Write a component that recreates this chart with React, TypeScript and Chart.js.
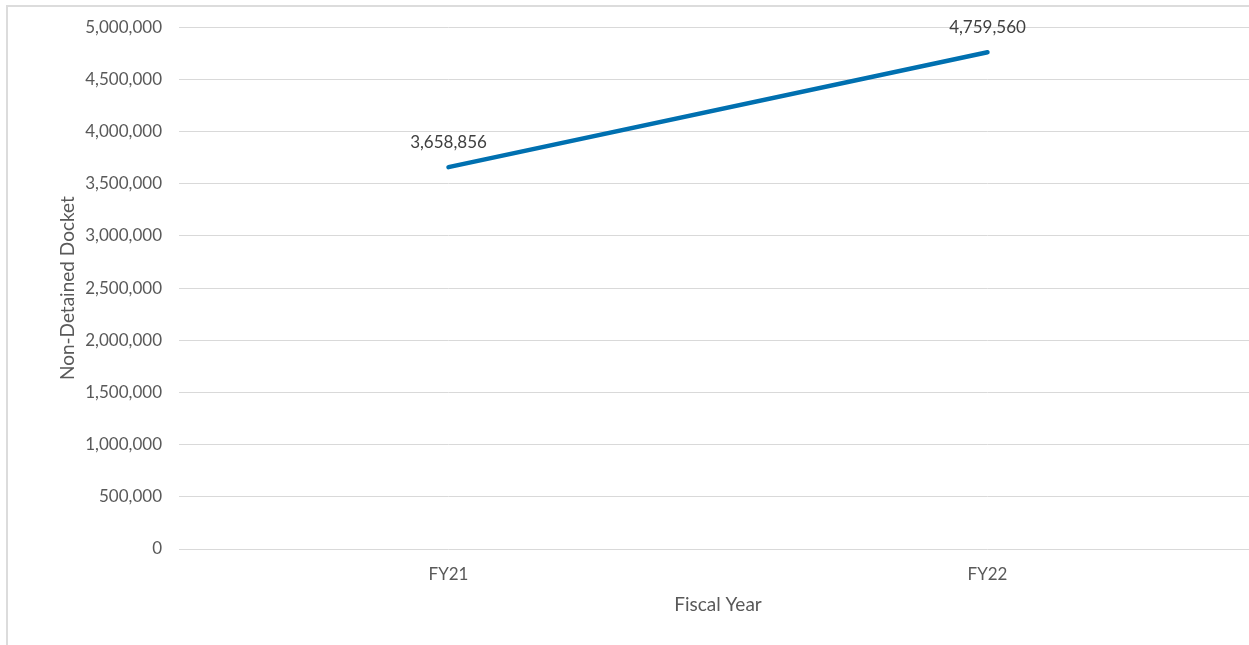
import React, { useEffect, useRef } from "react";
import { Chart, registerables } from "chart.js";

Chart.register(...registerables);

const categories = ["FY21", "FY22"];
const docketValues = [3658856, 4759560];
const yMin = 0;
const yMax = 5000000;
const yStep = 500000;
const xTitle = "Fiscal Year";
const yTitle = "Non-Detained Docket";

const FONT = "Lato, 'Open Sans', sans-serif";
const fmt = (v: number) => Number(v).toLocaleString("en-US");

const labelPlugin = {
  id: "pointLabels",
  afterDatasetsDraw(chart: any) {
    const { ctx } = chart;
    const meta = chart.getDatasetMeta(0);
    ctx.save();
    ctx.font = `17px ${FONT}`;
    ctx.fillStyle = "#404040";
    ctx.textAlign = "center";
    ctx.textBaseline = "middle";
    meta.data.forEach((pt: any, i: number) => {
      ctx.fillText(fmt(docketValues[i]), pt.x, pt.y - 25);
    });
    ctx.restore();
  },
};

export default function App() {
  const ref = useRef<HTMLCanvasElement | null>(null);
  useEffect(() => {
    if (!ref.current) return;
    const chart = new Chart(ref.current, {
      type: "line",
      data: {
        labels: categories,
        datasets: [
          {
            data: docketValues,
            borderColor: "#0070B0",
            backgroundColor: "#0070B0",
            borderWidth: 4.5,
            borderCapStyle: "round",
            pointRadius: 0,
            pointHoverRadius: 0,
            tension: 0,
          },
        ],
      },
      options: {
        responsive: false,
        maintainAspectRatio: false,
        animation: false,
        events: [],
        layout: { padding: { left: 40, right: 5, top: 27, bottom: 20 } },
        plugins: { legend: { display: false }, tooltip: { enabled: false } },
        scales: {
          x: {
            type: "category",
            offset: true,
            grid: { display: false, drawTicks: false },
            border: { display: false },
            ticks: { color: "#595959", font: { family: FONT, size: 17 }, padding: 15 },
            title: {
              display: true,
              text: xTitle,
              color: "#595959",
              font: { family: FONT, size: 19 },
              padding: { top: 0, bottom: 9 },
            },
            afterFit: (s: any) => {
              s.height = 76;
            },
          },
          y: {
            min: yMin,
            max: yMax,
            grid: { color: "#d9d9d9", lineWidth: 1, drawTicks: false },
            border: { display: false },
            ticks: {
              stepSize: yStep,
              color: "#595959",
              font: { family: FONT, size: 17 },
              padding: 17,
              callback: (v: any) => fmt(v),
            },
            title: {
              display: true,
              text: yTitle,
              color: "#595959",
              font: { family: FONT, size: 19 },
              padding: { top: 16, bottom: 0 },
            },
            afterFit: (s: any) => {
              s.width = 139;
            },
          },
        },
      },
      plugins: [labelPlugin],
    } as any);
    return () => chart.destroy();
  }, []);

  return (
    <div
      style={{
        position: "fixed",
        left: 0,
        top: 0,
        width: 1249,
        height: 645,
        overflow: "hidden",
        background: "#ffffff",
      }}
    >
      <canvas ref={ref} width={1262} height={645} style={{ position: "absolute", left: 0, top: 0, width: 1262, height: 645 }} />
      <div
        style={{
          position: "absolute",
          left: 6,
          top: 5,
          width: 2000,
          height: 2000,
          borderLeft: "2px solid #dcdcdc",
          borderTop: "2px solid #dcdcdc",
          pointerEvents: "none",
        }}
      />
    </div>
  );
}
